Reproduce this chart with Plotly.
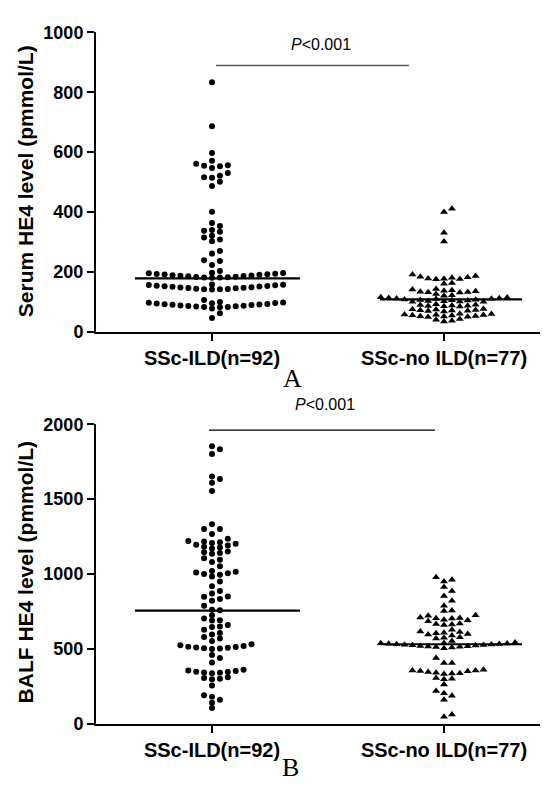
import plotly.graph_objects as go

# ---------------- data ----------------
categories = ["SSc-ILD(n=92)", "SSc-no ILD(n=77)"]

serum_ild = [833, 686, 597, 571, 561, 556, 554, 553, 547, 530, 521, 516, 514, 501, 487,
             401, 363, 353, 340, 337, 334, 321, 315, 308, 302, 270,
             261, 239, 236, 223, 203,
             180, 181, 181, 182, 183, 184, 185, 186, 187, 188, 189, 190, 191, 192, 193, 194, 195, 196, 197,
             141, 142, 142, 143, 144, 145, 146, 147, 148, 149, 150, 151, 152, 153, 154, 155, 156, 157, 158,
             82, 83, 83, 84, 85, 86, 87, 88, 89, 90, 91, 92, 93, 94, 95, 96, 97, 98, 99,
             106, 78, 62, 46]

serum_noild = [411, 400, 331, 301,
               191, 186, 184, 182, 180, 178, 177, 176, 175,
               163, 160,
               143, 141, 139, 137, 135, 134, 133, 132, 131,
               126, 122, 120,
               115, 114, 113, 112, 111, 110, 109, 108, 107, 106, 105, 104, 103, 102, 101, 100, 100,
               92, 90, 89, 88, 87, 86, 85, 84,
               76, 75, 74, 73, 72, 71, 70, 69, 68,
               60, 59, 58, 57, 56, 55, 54, 53, 52, 51, 50, 49,
               43, 40, 37, 34]

balf_ild = [1853, 1834, 1802, 1651, 1634, 1610, 1554,
            1332, 1300, 1300, 1267, 1235,
            1220, 1218, 1212, 1207, 1203, 1195, 1190, 1182, 1177, 1170,
            1150, 1145, 1140, 1135,
            1106, 1095, 1080, 1052,
            1020, 1015, 1010, 1005, 1000, 995,
            983, 950, 918, 886, 870,
            850, 848, 834, 821, 789,
            761, 758, 725, 703, 692, 690, 660,
            649, 647, 628, 606, 596, 580, 570, 553,
            531, 525, 520, 515, 512, 510, 508, 505, 502, 499,
            460, 439, 409,
            360, 355, 352, 348, 345, 342, 340, 338,
            310, 305, 300, 298,
            256,
            191, 180, 161, 140, 105]

balf_noild = [978, 961, 950,
              914, 886,
              854, 821,
              789, 757, 753,
              725, 722, 710, 707, 705, 703, 695, 692, 685,
              670, 667, 663, 660,
              628, 617, 612, 608, 604, 600, 596, 590,
              578, 574, 570, 553,
              542, 540, 538, 536, 534, 532, 531, 530, 528, 526, 524, 522, 520, 518, 516, 514, 512, 510, 505,
              439, 406, 406,
              360, 355, 355, 352, 350, 345, 340, 338, 335, 332,
              305, 301, 298,
              262,
              219, 204, 187, 161,
              62, 47]

serum_center_line = [178, 108]
balf_center_line = [755, 531]

serum_ticks = [0, 200, 400, 600, 800, 1000]
balf_ticks = [0, 500, 1000, 1500, 2000]

p_text = "<i>P</i>&lt;0.001"

# ---------------- layout geometry (page pixels) ----------------
PAGE_W, PAGE_H = 548, 789
OFF = 8                      # default body margin of the html page
W, H = PAGE_W - OFF, PAGE_H - OFF


def fx(p):  # page x px -> paper
    return (p - OFF) / W


def fy(p):  # page y px -> paper
    return 1 - (p - OFF) / H


X_LEFT_PX = 96
X_PX_PER_UNIT = 232.0
X_RANGE = [0.5, 0.5 + (PAGE_W - X_LEFT_PX) / X_PX_PER_UNIT]
A_TOP, A_BOT = 22.7, 330.0
B_TOP, B_BOT = 425.0, 732.3

a_px_per_unit = (A_BOT - A_TOP) / serum_ticks[-1]
b_px_per_unit = (B_BOT - B_TOP) / balf_ticks[-1]

COL_PX = 7.9
THRESH_PX = 5.2


def swarm_x(values, center, y_px_per_unit):
    idx = sorted(range(len(values)), key=lambda i: values[i])
    cols = {}
    xs = [None] * len(values)
    seq = [0]
    for k in range(1, 80):
        seq += [k, -k]
    for i in idx:
        y = values[i] * y_px_per_unit
        for c in seq:
            if all(abs(y - yy) >= THRESH_PX for yy in cols.get(c, [])):
                cols.setdefault(c, []).append(y)
                xs[i] = center + c * COL_PX / X_PX_PER_UNIT
                break
    return xs


def px_to_x(px):
    return X_RANGE[0] + (px - X_LEFT_PX) / X_PX_PER_UNIT


fig = go.Figure()

groups = [
    (serum_ild, 1, "circle", 6, "x", "y", a_px_per_unit),
    (serum_noild, 2, "triangle-up", 7, "x", "y", a_px_per_unit),
    (balf_ild, 1, "circle", 6, "x2", "y2", b_px_per_unit),
    (balf_noild, 2, "triangle-up", 7, "x2", "y2", b_px_per_unit),
]
for vals, center, sym, size, xa, ya, ppu in groups:
    fig.add_trace(go.Scatter(
        x=swarm_x(vals, center, ppu), y=vals, mode="markers",
        marker=dict(symbol=sym, size=size, color="black", line=dict(width=0)),
        xaxis=xa, yaxis=ya, showlegend=False, hoverinfo="skip"))

# central lines (left/right half widths in px)
half = [(77, 88), (64, 78)]
for lines, xa, ya in [(serum_center_line, "x", "y"), (balf_center_line, "x2", "y2")]:
    for k, val in enumerate(lines):
        c = k + 1
        l, r = half[k]
        fig.add_trace(go.Scatter(
            x=[c - l / X_PX_PER_UNIT, c + r / X_PX_PER_UNIT], y=[val, val], mode="lines",
            line=dict(color="black", width=2.2), xaxis=xa, yaxis=ya,
            showlegend=False, hoverinfo="skip"))

# significance lines
fig.add_shape(type="line", xref="x", yref="y", x0=px_to_x(216), x1=px_to_x(409),
              y0=(A_BOT - 56.7) / a_px_per_unit, y1=(A_BOT - 56.7) / a_px_per_unit,
              line=dict(color="#555555", width=1.6))
fig.add_shape(type="line", xref="x2", yref="y2", x0=px_to_x(209), x1=px_to_x(435),
              y0=(B_BOT - 431) / b_px_per_unit, y1=(B_BOT - 431) / b_px_per_unit,
              line=dict(color="black", width=1.1))

tick_font = dict(family="Liberation Sans", size=18, color="black", weight="bold")
cat_font = dict(family="Liberation Sans", size=20, color="black", weight="bold")

axis_common = dict(showline=True, linewidth=2, linecolor="black", ticks="outside",
                   ticklen=7, tickwidth=2, tickcolor="black", showgrid=False,
                   zeroline=False, mirror=False)

fig.update_layout(
    width=W, height=H, margin=dict(l=0, r=0, t=0, b=0),
    paper_bgcolor="white", plot_bgcolor="white", showlegend=False,
    xaxis=dict(domain=[fx(X_LEFT_PX), 1], range=X_RANGE, anchor="y",
               tickvals=[1, 2], ticktext=categories, tickfont=cat_font, **axis_common),
    yaxis=dict(domain=[fy(A_BOT), fy(A_TOP)], range=[0, serum_ticks[-1]], anchor="x",
               tickvals=serum_ticks, tickfont=tick_font, **axis_common),
    xaxis2=dict(domain=[fx(X_LEFT_PX), 1], range=X_RANGE, anchor="y2",
                tickvals=[1, 2], ticktext=categories, tickfont=cat_font, **axis_common),
    yaxis2=dict(domain=[fy(B_BOT), fy(B_TOP)], range=[0, balf_ticks[-1]], anchor="x2",
                tickvals=balf_ticks, tickfont=tick_font, **axis_common),
)

title_font = dict(family="Liberation Sans", size=21, color="black", weight="bold")
annos = [
    dict(text="Serum HE4 level (pmmol/L)", x=fx(25), y=fy(175.5), textangle=-90, font=title_font),
    dict(text="BALF HE4 level (pmmol/L)", x=fx(25), y=fy(577), textangle=-90, font=title_font),
    dict(text=p_text, x=fx(321), y=fy(35),
         font=dict(family="Liberation Sans", size=16, color="black")),
    dict(text=p_text, x=fx(325), y=fy(405),
         font=dict(family="Liberation Sans", size=16, color="black")),
    dict(text="A", x=fx(292), y=fy(378),
         font=dict(family="Liberation Serif", size=26, color="black")),
    dict(text="B", x=fx(290), y=fy(777),
         font=dict(family="Liberation Serif", size=26, color="black")),
]
for a in annos:
    fig.add_annotation(xref="paper", yref="paper", xanchor="center", yanchor="middle",
                       showarrow=False, **a)

fig.write_html("out.html")
